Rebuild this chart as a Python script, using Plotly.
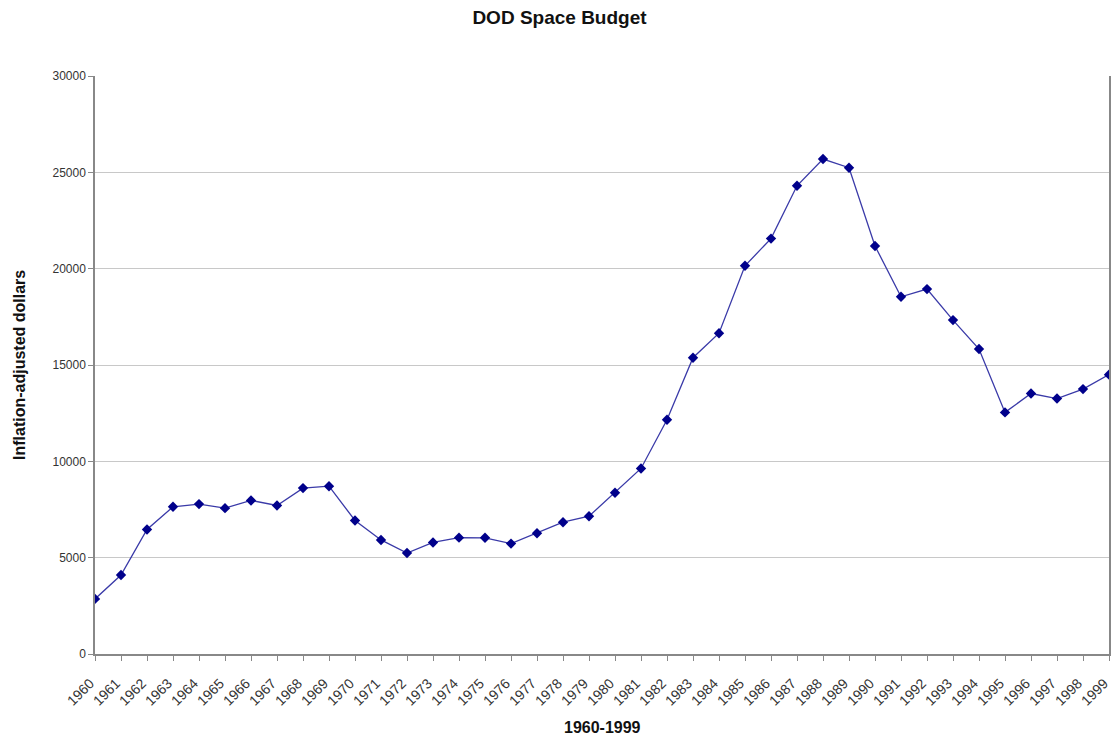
import plotly.graph_objects as go

years = list(range(1960, 2000))
budget = [2860, 4100, 6460, 7640, 7780, 7570, 7970, 7710, 8610, 8710,
          6930, 5920, 5240, 5790, 6040, 6030, 5730, 6270, 6840, 7150,
          8370, 9630, 12160, 15380, 16650, 20150, 21560, 24300, 25690, 25240,
          21180, 18540, 18940, 17330, 15830, 12540, 13520, 13260, 13750, 14500]
y_ticks = [0, 5000, 10000, 15000, 20000, 25000, 30000]
y_tick_text = [str(v) for v in y_ticks]

FONT = "Liberation Sans, Arial, sans-serif"

# page has an 8px body margin; figure is sized so the plot lands where the reference has it
W, H = 1103, 728
L, R, T, B = 87, 2, 68, 82
pw, ph = W - L - R, H - T - B

fig = go.Figure()
fig.add_trace(go.Scatter(
    x=years, y=budget, mode="lines+markers",
    line=dict(color="#3a3aa8", width=1.3),
    marker=dict(symbol="diamond", size=8, color="#00008b",
                line=dict(width=0)),
    showlegend=False,
))

fig.update_layout(
    width=W, height=H,
    paper_bgcolor="white", plot_bgcolor="white",
    margin=dict(l=L, r=R, t=T, b=B, autoexpand=False),
    font=dict(family=FONT, size=12, color="#333333"),
    title=dict(text="<b>DOD Space Budget</b>", x=0.5, xanchor="center",
               xref="container", y=1 - 9 / H, yanchor="middle",
               font=dict(family=FONT, size=19, color="#111111")),
    xaxis=dict(
        range=[1960, 1999], tickmode="array", tickvals=years,
        ticktext=[str(y) for y in years], tickangle=-45,
        ticks="outside", ticklen=5, tickcolor="#888888",
        showline=True, linecolor="#888888", linewidth=1.5,
        showgrid=False, zeroline=False, ticklabeloverflow="allow",
        ticklabelstandoff=9, ticklabelshift=-5,
        tickfont=dict(family=FONT, size=14, color="#333333"),
    ),
    yaxis=dict(
        range=[0, 30000], tickmode="array", tickvals=y_ticks,
        ticktext=y_tick_text,
        ticks="outside", ticklen=5, tickcolor="#888888",
        showline=True, linecolor="#888888", linewidth=1.5, mirror=True,
        showgrid=True, gridcolor="#c8c8c8", gridwidth=1,
        zeroline=False,
        tickfont=dict(family=FONT, size=12, color="#333333"),
    ),
    annotations=[
        dict(text="<b>1960-1999</b>", xref="paper", yref="paper",
             x=0.5, y=(ph - (719 - T)) / ph, xanchor="center", yanchor="middle",
             showarrow=False, font=dict(family=FONT, size=16, color="#111111")),
        dict(text="<b>Inflation-adjusted dollars</b>", xref="paper", yref="paper",
             x=(11 - L) / pw, y=0.5, xanchor="center", yanchor="middle",
             textangle=-90, showarrow=False,
             font=dict(family=FONT, size=16, color="#111111")),
    ],
)

fig.write_html("out.html")
